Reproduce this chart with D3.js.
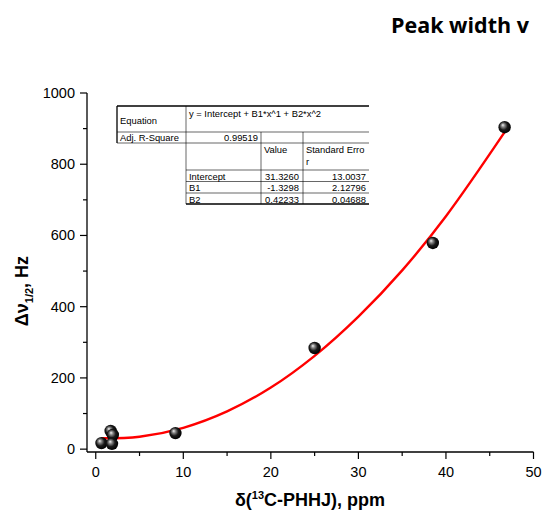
<!DOCTYPE html>
<html>
<head>
<meta charset="utf-8">
<script src="https://cdn.jsdelivr.net/npm/d3@7"></script>
<style>
  body { margin: 0; background: #fff; }
  svg { display: block; }
</style>
</head>
<body>
<script>
var width = 543;
var height = 513;

// measured points
var shiftPpm = [0.65, 1.7, 1.95, 1.85, 9.1, 25.0, 38.5, 46.7];
var peakWidth = [17, 51, 40, 15, 45, 284, 579, 904];

// fitted curve
var fitX = [0.65, 5, 10, 15, 20, 25, 30, 35, 40, 46.7];
var fitY = [30.7, 35, 60, 106, 173, 262, 372, 502, 654, 890];

var xTicks = [0, 10, 20, 30, 40, 50];
var yTicks = [0, 200, 400, 600, 800, 1000];

// fit report table
var tableRows = [
    ['Intercept', '31.3260', '13.0037'],
    ['B1', '-1.3298', '2.12796'],
    ['B2', '0.42233', '0.04688']
];
var adjR2 = '0.99519';
var equation = 'y = Intercept + B1*x^1 + B2*x^2';

var svg = d3.select('body')
    .append('svg')
    .attr('width', width)
    .attr('height', height);

var x = d3.scaleLinear().domain([-1, 50]).range([87, 533.5]);
var y = d3.scaleLinear().domain([-8, 1000]).range([452, 93]);

var defs = svg.append('defs');
var grad = defs.append('radialGradient')
    .attr('id', 'ball')
    .attr('cx', '45%').attr('cy', '45%').attr('r', '55%')
    .attr('fx', '35%').attr('fy', '32%');
grad.append('stop').attr('offset', '0%').attr('stop-color', '#f4f4f4');
grad.append('stop').attr('offset', '25%').attr('stop-color', '#8a8a8a');
grad.append('stop').attr('offset', '60%').attr('stop-color', '#1a1a1a');
grad.append('stop').attr('offset', '100%').attr('stop-color', '#000');

// title, sits at the right edge like the original
svg.append('text')
    .attr('x', 391)
    .attr('y', 33)
    .attr('font-family', 'Open Sans')
    .attr('font-weight', 700)
    .attr('font-size', 21.5)
    .text('Peak width v');

// axes
var xAxis = svg.append('g')
    .attr('transform', 'translate(0,452)');
xAxis.append('line')
    .attr('x1', x(-1)).attr('x2', x(50))
    .attr('stroke', '#000').attr('stroke-width', 1.3);
xAxis.selectAll('.major')
    .data(xTicks)
    .enter().append('line')
    .attr('x1', function(d) { return x(d); })
    .attr('x2', function(d) { return x(d); })
    .attr('y1', 0).attr('y2', 7)
    .attr('stroke', '#000').attr('stroke-width', 1.2);
xAxis.selectAll('.minor')
    .data([5, 15, 25, 35, 45])
    .enter().append('line')
    .attr('x1', function(d) { return x(d); })
    .attr('x2', function(d) { return x(d); })
    .attr('y1', 0).attr('y2', 4)
    .attr('stroke', '#000').attr('stroke-width', 1.2);
xAxis.selectAll('text')
    .data(xTicks)
    .enter().append('text')
    .attr('x', function(d) { return x(d); })
    .attr('y', 25)
    .attr('text-anchor', 'middle')
    .attr('font-family', 'Liberation Sans, Arial')
    .attr('font-size', 14.5)
    .text(function(d) { return d; });

var yAxis = svg.append('g')
    .attr('transform', 'translate(87,0)');
yAxis.append('line')
    .attr('y1', y(-8)).attr('y2', y(1000))
    .attr('stroke', '#000').attr('stroke-width', 1.3);
yAxis.selectAll('.major')
    .data(yTicks)
    .enter().append('line')
    .attr('y1', function(d) { return y(d); })
    .attr('y2', function(d) { return y(d); })
    .attr('x1', 0).attr('x2', -7)
    .attr('stroke', '#000').attr('stroke-width', 1.2);
yAxis.selectAll('.minor')
    .data([100, 300, 500, 700, 900])
    .enter().append('line')
    .attr('y1', function(d) { return y(d); })
    .attr('y2', function(d) { return y(d); })
    .attr('x1', 0).attr('x2', -4)
    .attr('stroke', '#000').attr('stroke-width', 1.2);
yAxis.selectAll('text')
    .data(yTicks)
    .enter().append('text')
    .attr('x', -12)
    .attr('y', function(d) { return y(d) + 5; })
    .attr('text-anchor', 'end')
    .attr('font-family', 'Liberation Sans, Arial')
    .attr('font-size', 14.5)
    .text(function(d) { return d; });

// axis titles
var xl = svg.append('text')
    .attr('x', 310)
    .attr('y', 506)
    .attr('text-anchor', 'middle')
    .attr('font-family', 'Liberation Sans, Arial')
    .attr('font-weight', 700)
    .attr('font-size', 18);
xl.append('tspan').text('δ(');
xl.append('tspan').attr('font-size', 11).attr('dy', -7).text('13');
xl.append('tspan').attr('dy', 7).text('C-PHHJ), ppm');

var yl = svg.append('text')
    .attr('transform', 'translate(28,291) rotate(-90)')
    .attr('text-anchor', 'middle')
    .attr('font-family', 'Liberation Sans, Arial')
    .attr('font-weight', 700)
    .attr('font-size', 18);
yl.append('tspan').text('Δν');
yl.append('tspan').attr('font-size', 11).attr('dy', 5).text('1/2');
yl.append('tspan').attr('dy', -5).text(', Hz');

// fit line
var line = d3.line()
    .x(function(d) { return x(d[0]); })
    .y(function(d) { return y(d[1]); })
    .curve(d3.curveCatmullRom);
svg.append('path')
    .datum(d3.zip(fitX, fitY))
    .attr('d', line)
    .attr('fill', 'none')
    .attr('stroke', '#ff0000')
    .attr('stroke-width', 2.4);

// points
svg.selectAll('.pt')
    .data(d3.zip(shiftPpm, peakWidth))
    .enter().append('circle')
    .attr('class', 'pt')
    .attr('cx', function(d) { return x(d[0]); })
    .attr('cy', function(d) { return y(d[1]); })
    .attr('r', 6.2)
    .attr('fill', 'url(#ball)');

// fit report table
var tb = svg.append('g').attr('font-family', 'Liberation Sans, Arial').attr('font-size', 9.4);
var rowY = [106, 132, 143, 170, 181.5, 193, 204];
function hline(x1, x2, yy, w) {
    tb.append('line').attr('x1', x1).attr('x2', x2).attr('y1', yy).attr('y2', yy)
        .attr('stroke', '#000').attr('stroke-width', w || 0.6);
}
function vline(xx, y1, y2, w) {
    tb.append('line').attr('x1', xx).attr('x2', xx).attr('y1', y1).attr('y2', y2)
        .attr('stroke', '#000').attr('stroke-width', w || 0.6);
}
tb.append('rect').attr('x', 117).attr('y', 106).attr('width', 252).attr('height', 98).attr('fill', '#fff');
hline(117, 369, rowY[0], 1.3);
hline(117, 369, rowY[1]);
hline(117, 369, rowY[2]);
hline(186, 369, rowY[3]);
hline(186, 369, rowY[4]);
hline(186, 369, rowY[5]);
hline(186, 369, rowY[6], 1.3);
vline(117, rowY[0], rowY[2], 1.3);
vline(186, rowY[0], rowY[6]);
vline(261, rowY[1], rowY[6]);
vline(303, rowY[1], rowY[6]);

tb.append('text').attr('x', 120).attr('y', 124).text('Equation');
tb.append('text').attr('x', 189).attr('y', 117).text(equation);
tb.append('text').attr('x', 120).attr('y', 141).text('Adj. R-Square');
tb.append('text').attr('x', 258).attr('y', 141).attr('text-anchor', 'end').text(adjR2);
tb.append('text').attr('x', 264).attr('y', 153).text('Value');
tb.append('text').attr('x', 306).attr('y', 153).text('Standard Erro');
tb.append('text').attr('x', 306).attr('y', 165).text('r');

tb.selectAll('.row')
    .data(tableRows)
    .enter().append('g')
    .each(function(d, i) {
        var g = d3.select(this);
        var base = rowY[3 + i] + 9.5;
        g.append('text').attr('x', 189).attr('y', base).text(d[0]);
        g.append('text').attr('x', 299).attr('y', base).attr('text-anchor', 'end').text(d[1]);
        g.append('text').attr('x', 366).attr('y', base).attr('text-anchor', 'end').text(d[2]);
    });
</script>
</body>
</html>
